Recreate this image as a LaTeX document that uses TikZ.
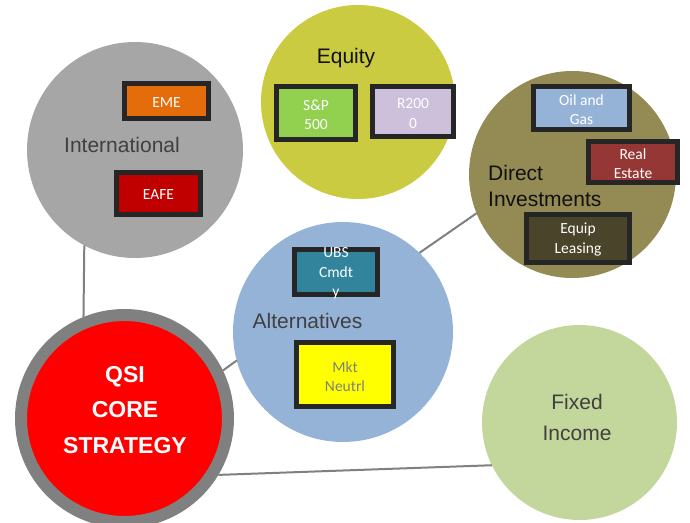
\documentclass[tikz,border=0pt]{standalone}
\usepackage{fontspec}
\setmainfont{Liberation Sans}
\newfontfamily\boxfont{Carlito}
\definecolor{intlgray}{HTML}{A6A6A6}
\definecolor{equitycol}{HTML}{CBCB42}
\definecolor{directcol}{HTML}{948A54}
\definecolor{altcol}{HTML}{95B3D7}
\definecolor{fixedcol}{HTML}{C3D69B}
\definecolor{emecol}{HTML}{E46C0A}
\definecolor{eafecol}{HTML}{C00000}
\definecolor{spcol}{HTML}{92D050}
\definecolor{rcol}{HTML}{CCC0DA}
\definecolor{oilcol}{HTML}{95B3D7}
\definecolor{realcol}{HTML}{953735}
\definecolor{equipcol}{HTML}{4A452A}
\definecolor{ubscol}{HTML}{31849B}
\definecolor{mktcol}{HTML}{FFFF00}
\definecolor{boxline}{HTML}{262626}
\definecolor{linegray}{HTML}{808080}
\definecolor{textgray}{HTML}{404040}
\definecolor{textdark}{HTML}{111111}
\begin{document}
\begin{tikzpicture}[x=1pt,y=-1pt,
  bubble/.style={circle, inner sep=0pt, outer sep=0pt, draw=none},
  asset/.style={rectangle, draw=boxline, line width=5pt, inner sep=0pt},
  assettext/.style={font=\boxfont\fontsize{15.5}{19.5}\selectfont, text=white, align=center, inner sep=0pt},
  conn/.style={draw=linegray, line width=2pt},
  bublabel/.style={font=\fontsize{21}{26}\selectfont, text=textgray, inner sep=0pt}
]
\useasboundingbox (0,0) rectangle (690,522);
\clip (0,0) rectangle (690,522);

% bubbles
\node[bubble, fill=intlgray, minimum size=216pt] (intl) at (135,150) {};
\node[bubble, fill=equitycol, minimum size=194pt] (equity) at (358,102) {};
\node[bubble, fill=directcol, minimum size=207pt] (direct) at (572.5,174.5) {};
\node[bubble, fill=altcol, minimum size=220pt] (alt) at (343,332) {};
\node[bubble, fill=fixedcol, minimum size=195pt] (fixed) at (579.5,422.5) {};
\node[circle, inner sep=0pt, fill=red, draw=linegray, line width=12pt, minimum size=207pt] (qsi) at (124.5,418.5) {};

% connectors
\draw[conn] (intl.242.5) -- (qsi.112.3);
\draw[conn] (alt.46) -- (direct.202.5);
\draw[conn] (qsi.26.2) -- (alt.195.4);
\draw[conn] (qsi.329.8) -- (fixed.206.4);

% bubble labels (base anchor = baseline of the last line)
\node[bublabel, anchor=base] (intltext) at (122,152) {International};
\node[bublabel, text=textdark, anchor=base] (equitytext) at (346,63) {Equity};
\node[bublabel, anchor=base] (alttext) at (307.5,328.5) {Alternatives};
\node[bublabel, text=textdark, align=left, anchor=base west] (directtext) at (488,206.7) {Direct\\Investments};
\node[bublabel, font=\fontsize{21}{31.3}\selectfont, align=center, anchor=base] (fixedtext) at (577,440.7) {Fixed\\Income};
\node[inner sep=0pt, text=white, font=\bfseries\fontsize{23}{35.5}\selectfont, align=center, anchor=base] (qsitext) at (125,453.3) {QSI\\CORE\\STRATEGY};

% asset boxes
\node[asset, fill=emecol, minimum width=84pt, minimum height=35pt] (eme) at (166.5,101) {};
\node[asset, fill=eafecol, minimum width=84pt, minimum height=42pt] (eafe) at (158.5,193.5) {};
\node[asset, fill=spcol, minimum width=79pt, minimum height=53pt] (sp) at (316,113) {};
\node[asset, fill=rcol, minimum width=81pt, minimum height=50pt] (rtwo) at (413,111.5) {};
\node[asset, fill=oilcol, minimum width=96pt, minimum height=43pt] (oil) at (581.5,108) {};
\node[asset, fill=realcol, minimum width=89pt, minimum height=41pt] (real) at (633,162) {};
\node[asset, fill=equipcol, minimum width=103pt, minimum height=48pt] (equip) at (578,238.5) {};
\node[asset, fill=ubscol, minimum width=83pt, minimum height=45pt] (ubs) at (336,272) {};
\node[asset, fill=mktcol, minimum width=97pt, minimum height=64pt] (mkt) at (345,374.5) {};

\node[assettext] (emetext) at ([yshift=-1.5pt]eme.center) {EME};
\node[assettext] (eafetext) at ([yshift=-1pt]eafe.center) {EAFE};
\node[assettext] (sptext) at ([yshift=-2pt]sp.center) {S\&P\\500};
\node[assettext] (rtwotext) at ([yshift=-2pt]rtwo.center) {R200\\0};
\node[assettext] (oiltext) at ([yshift=-1.5pt]oil.center) {Oil and\\Gas};
\node[assettext] (realtext) at ([yshift=-1.5pt]real.center) {Real\\Estate};
\node[assettext] (equiptext) at ([yshift=-1pt]equip.center) {Equip\\Leasing};
\node[assettext] (ubstext) at ([yshift=-1.5pt]ubs.center) {UBS\\Cmdt\\y};
\node[assettext, text=linegray] (mkttext) at ([yshift=-2pt]mkt.center) {Mkt\\Neutrl};
\end{tikzpicture}
\end{document}
